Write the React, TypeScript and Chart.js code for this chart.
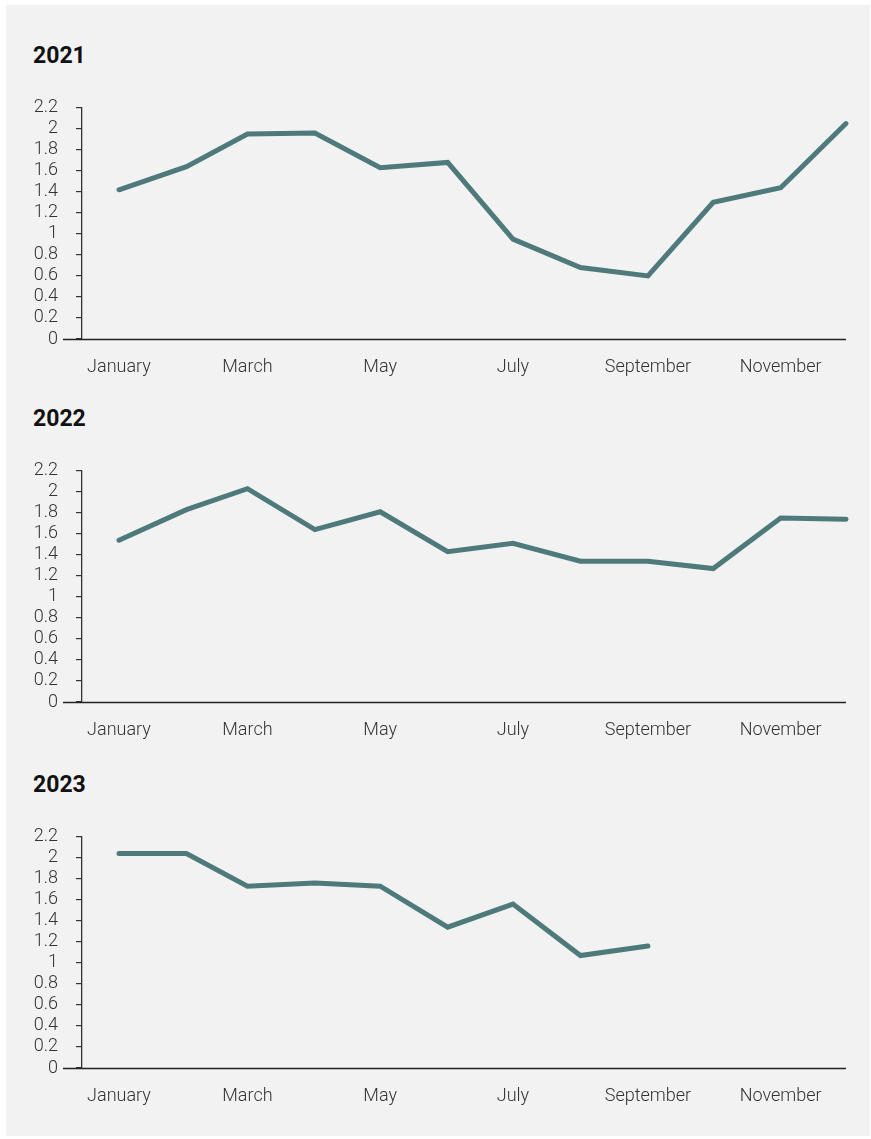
import React, { useEffect, useRef } from 'react';
import { Chart, registerables } from 'chart.js';

Chart.register(...registerables);

const months = ['January', 'February', 'March', 'April', 'May', 'June', 'July', 'August', 'September', 'October', 'November', 'December'];
const tickMonthIndexes = [0, 2, 4, 6, 8, 10];
const years = ['2021', '2022', '2023'];
const values2021 = [1.42, 1.64, 1.95, 1.96, 1.63, 1.68, 0.95, 0.68, 0.6, 1.3, 1.44, 2.05];
const values2022 = [1.54, 1.83, 2.03, 1.64, 1.81, 1.43, 1.51, 1.34, 1.34, 1.27, 1.75, 1.74];
const values2023 = [2.04, 2.04, 1.73, 1.76, 1.73, 1.34, 1.56, 1.07, 1.16];
const yTickValues = [0, 0.2, 0.4, 0.6, 0.8, 1, 1.2, 1.4, 1.6, 1.8, 2, 2.2];
const xStartDayOffset = -17;

const LINE_COLOR = '#4f7a7b';
const TEXT_COLOR = '#333333';
const FONT = 'Roboto';
const CANVAS_W = 864;
const CANVAS_H = 305;

function dayOffset(year: number, monthIndex: number): number {
  return (Date.UTC(year, monthIndex, 1) - Date.UTC(year, 0, 1)) / 86400000;
}

const baselinePlugin = {
  id: 'baseline',
  afterDraw(chart: any) {
    const { ctx, chartArea, scales } = chart;
    const y = Math.round(scales.y.getPixelForValue(0)) + 0.5;
    ctx.save();
    ctx.strokeStyle = '#222222';
    ctx.lineWidth = 1.4;
    ctx.beginPath();
    ctx.moveTo(chartArea.left - 19, y);
    ctx.lineTo(chartArea.right, y);
    ctx.stroke();
    ctx.restore();
  },
};

function YearChart({ year, values, top }: { year: string; values: number[]; top: number }) {
  const ref = useRef<HTMLCanvasElement | null>(null);
  useEffect(() => {
    if (!ref.current) return;
    const y = Number(year);
    const tickDays = tickMonthIndexes.map((m) => dayOffset(y, m));
    const chart = new Chart(ref.current, {
      type: 'line',
      data: {
        datasets: [
          {
            data: values.map((v, i) => ({ x: dayOffset(y, i), y: v })),
            borderColor: LINE_COLOR,
            borderWidth: 5,
            pointRadius: 0,
            pointHoverRadius: 0,
            tension: 0,
            borderCapStyle: 'round',
            borderJoinStyle: 'miter',
            clip: false as any,
          } as any,
        ],
      },
      options: {
        animation: false,
        responsive: false,
        devicePixelRatio: 1,
        layout: { padding: { top: 4, right: 24, left: 0, bottom: 0 } },
        plugins: { legend: { display: false }, tooltip: { enabled: false } },
        scales: {
          x: {
            type: 'linear',
            min: xStartDayOffset,
            max: dayOffset(y, 11),
            afterBuildTicks: (s: any) => {
              s.ticks = tickDays.map((v) => ({ value: v }));
            },
            afterFit: (s: any) => {
              s.height = 45;
            },
            grid: { display: false, drawTicks: false },
            border: { display: false },
            ticks: {
              autoSkip: false,
              maxRotation: 0,
              padding: 18,
              color: TEXT_COLOR,
              font: { family: FONT, size: 18, weight: '300' as any },
              callback: (v: any) => {
                const idx = tickDays.indexOf(Number(v));
                return idx >= 0 ? months[tickMonthIndexes[idx]] : '';
              },
            },
          },
          y: {
            type: 'linear',
            min: 0,
            max: 2.2,
            afterBuildTicks: (s: any) => {
              s.ticks = yTickValues.map((v) => ({ value: v }));
            },
            afterFit: (s: any) => {
              s.width = 76;
            },
            grid: { drawOnChartArea: false, drawTicks: true, tickLength: 6, color: '#333333', lineWidth: 1.2 },
            border: { display: true, color: '#333333', width: 1.3 },
            ticks: {
              autoSkip: false,
              padding: 18,
              color: TEXT_COLOR,
              font: { family: FONT, size: 18, weight: '300' as any },
              callback: (v: any) => String(+Number(v).toFixed(1)),
            },
          },
        },
      },
      plugins: [baselinePlugin],
    });
    return () => chart.destroy();
  }, [year, values]);

  return (
    <>
      <div
        style={{
          position: 'absolute',
          left: 27,
          top: top - 35,
          fontFamily: FONT,
          fontWeight: 700,
          fontSize: 23,
          lineHeight: '23px',
          color: '#111111',
        }}
      >
        {year}
      </div>
      <canvas
        ref={ref}
        width={CANVAS_W}
        height={CANVAS_H}
        style={{ position: 'absolute', left: 0, top, width: CANVAS_W, height: CANVAS_H }}
      />
    </>
  );
}

export default function App() {
  const seriesList = [values2021, values2022, values2023];
  const tops = [74, 437, 803];
  return (
    <div
      style={{
        position: 'absolute',
        left: 6,
        top: 5,
        width: 864,
        height: 1131,
        background: '#f2f2f2',
      }}
    >
      {years.map((yr, i) => (
        <YearChart key={yr} year={yr} values={seriesList[i]} top={tops[i]} />
      ))}
    </div>
  );
}
